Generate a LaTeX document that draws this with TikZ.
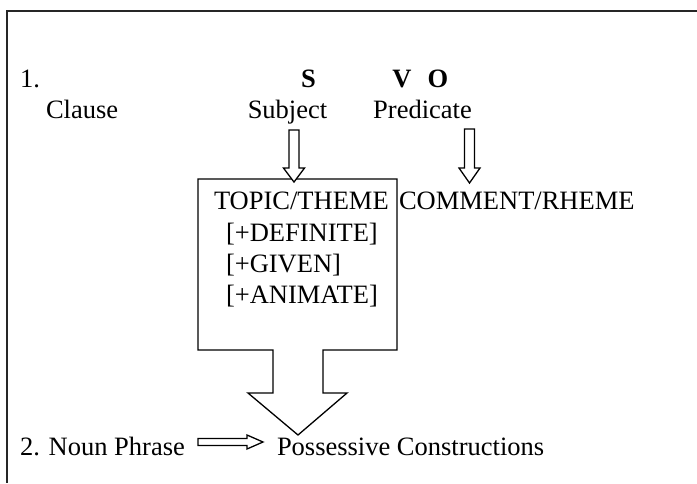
\documentclass[tikz,border=0pt]{standalone}
\usepackage{fontspec}
\setmainfont{Liberation Serif}
\begin{document}
\begin{tikzpicture}[x=1pt,y=-1pt,
  txt/.style={inner sep=0pt, outer sep=0pt, font=\fontsize{26.5}{31}\selectfont},
  boldtxt/.style={inner sep=0pt, outer sep=0pt, anchor=base, font=\fontsize{26.5}{31}\selectfont\bfseries},
  lbl/.style={txt, anchor=base west},
  blk/.style={draw=black, line width=1.3pt, fill=white, line join=miter},
  frameline/.style={draw=black!85, line width=2pt}]
\useasboundingbox (0,0) rectangle (697,483);
\draw[frameline] (697,11) -- (7,11) -- (7,483);
% texts
\node[lbl] (one) at (20,87) {1.};
\node[lbl] (clause) at (46,118) {Clause};
\node[boldtxt] (S) at (308.5,87) {S};
\node[boldtxt] (V) at (402,87) {V};
\node[boldtxt] (O) at (438,87) {O};
\node[txt,anchor=base] (subj) at (287.5,118) {Subject};
\node[txt,anchor=base] (pred) at (422.5,118) {Predicate};
% big box with arrow
\draw[blk] (198,179) -- (397,179) -- (397,350) -- (323,350) -- (323,393) -- (347,393)
  -- (298,435) -- (248,393) -- (273,393) -- (273,350) -- (198,350) -- cycle;
\node[lbl] (topic) at (214,209) {TOPIC/THEME};
\node[lbl] (def) at (226,241) {[+DEFINITE]};
\node[lbl] (giv) at (226,272) {[+GIVEN]};
\node[lbl] (ani) at (226,303) {[+ANIMATE]};
\node[lbl] (comment) at (399,209) {COMMENT/RHEME};
% down arrows
\draw[blk] (289,130) -- (299,130) -- (299,168) -- (304.5,168) -- (294,182) -- (283.5,168) -- (289,168) -- cycle;
\draw[blk] (464.5,129) -- (474.5,129) -- (474.5,168) -- (480,168) -- (469.5,183) -- (459,168) -- (464.5,168) -- cycle;
% bottom line
\node[lbl] (np) at (20,455) {2. Noun Phrase};
\node[lbl] (poss) at (277,455) {Possessive Constructions};
\draw[blk] (198,438.5) -- (247,438.5) -- (247,435) -- (263,442) -- (247,449) -- (247,445.5) -- (198,445.5) -- cycle;
\end{tikzpicture}
\end{document}
